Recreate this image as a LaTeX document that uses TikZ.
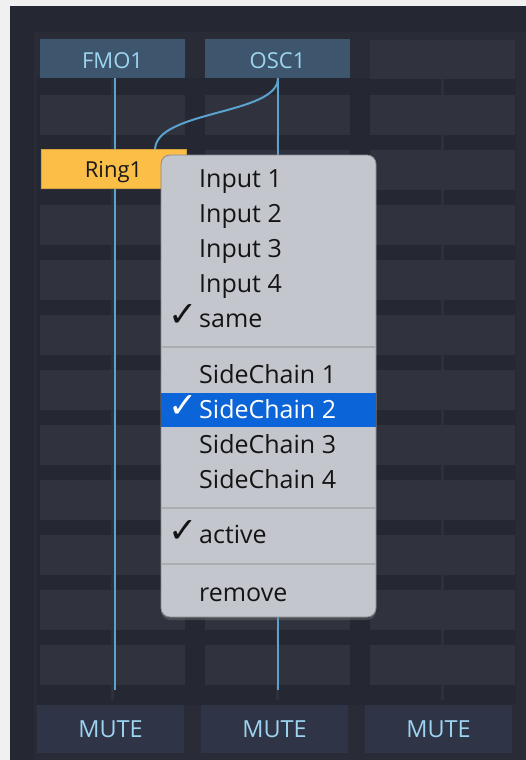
\documentclass[tikz,border=0pt]{standalone}
\usepackage{fontspec}
\newfontfamily\uifont{Open Sans}
\newfontfamily\symfont{DejaVu Sans}
\usetikzlibrary{shadows}

\definecolor{outer}{HTML}{F0F0F0}
\definecolor{panel}{HTML}{292C37}
\definecolor{gap}{HTML}{252832}
\definecolor{cell}{HTML}{30333E}
\definecolor{slot}{HTML}{3D566E}
\definecolor{slottext}{HTML}{9DD4F0}
\definecolor{mute}{HTML}{2F3446}
\definecolor{ring}{HTML}{FBBE47}
\definecolor{wire}{HTML}{5AA3CF}
\definecolor{menu}{HTML}{C4C6CD}
\definecolor{menuline}{HTML}{ABADB3}
\definecolor{pick}{HTML}{0B64D8}

\pgfdeclarelayer{grid}
\pgfdeclarelayer{wires}
\pgfsetlayers{grid,wires,main}

\tikzset{
	slotbox/.style = {minimum width = 145pt, minimum height = 39pt, inner sep = 0pt,
		fill = slot, text = slottext, text height = 19pt, text depth = 0pt,
		font = \uifont\fontsize{22}{22}\selectfont},
	ringbox/.style = {slotbox, fill = ring, draw = ring!85!black, text = black!90,
		text height = 16pt},
	mutebox/.style = {slotbox, minimum width = 147pt, minimum height = 48pt,
		fill = mute, text height = 16pt, font = \uifont\fontsize{23.5}{23.5}\selectfont},
	menubox/.style = {minimum width = 215pt, minimum height = 462pt, rounded corners = 9pt,
		fill = menu, draw = menuline!80!black, line width = 0.8pt,
		drop shadow = {opacity = 0.35, shadow xshift = 0pt, shadow yshift = -3pt}},
	menuentry/.style = {anchor = base west, inner sep = 0pt, text = black!92,
		font = \uifont\fontsize{25}{25}\selectfont},
	checkmark/.style = {menuentry, font = \symfont\bfseries\fontsize{35}{35}\selectfont},
	wire/.style = {draw = wire, line width = 2pt},
	sepline/.style = {draw = menuline, line width = 2pt}
}

\begin{document}
\begin{tikzpicture}[x = 1pt, y = -1pt, font = \uifont]

	\useasboundingbox (0, 0) rectangle (526, 760);

	% Rack background with the slot grid

	\begin{pgfonlayer}{grid}
		\fill [outer] (0, 0) rectangle (526, 760);
		\fill [panel] (10, 6) rectangle (526, 760);
		\fill [gap] (10, 6) rectangle (526, 32);
		\fill [gap] (10, 32) rectangle (34, 760);
		\fill [gap] (37, 78) rectangle (516, 705);
		\foreach \c in {0, 1, 2} {
			\foreach \r in {0, ..., 10}
				\fill [cell] (40 + 165*\c, 95 + 55*\r) rectangle +(145, 40);
			\foreach \r in {0, ..., 11}
				\fill [cell!85!gap] (111 + 165*\c, 79 + 55*\r) rectangle +(3, 16);
		}
	\end{pgfonlayer}

	% Slot headers, ring modulator and mute buttons

	\node [slotbox] (fmo) at (112.5, 58.5) {FMO1};
	\node [slotbox] (osc) at (277.5, 58.5) {OSC1};
	\node [slotbox, fill = cell] (spare) at (442.5, 59.5) {};

	\node [ringbox] (ring) at (113.5, 169) {Ring1};

	\node [mutebox] (mute1) at (110.5, 729) {MUTE};
	\node [mutebox] (mute2) at (274.5, 729) {MUTE};
	\node [mutebox] (mute3) at (438.5, 729) {MUTE};

	% Signal wires

	\coordinate (fmoend) at (115, 690);
	\coordinate (oscend) at (278, 690);
	\coordinate (ringin) at (155, 150);

	\begin{pgfonlayer}{wires}
		\draw [wire] (fmo.south -| fmoend) -- (fmoend);
		\draw [wire] (osc.south -| oscend) -- (oscend);
		\draw [wire] (osc.south -| oscend) .. controls +(0, 37) and +(0, -40) .. (ringin);
	\end{pgfonlayer}

	% Input menu

	\node [menubox] (menu) at (268.5, 386) {};
	\fill [pick] (menu.west |- 0, 393) rectangle (menu.east |- 0, 427);

	\draw [sepline] (menu.west |- 0, 346.5) -- (menu.east |- 0, 346.5);
	\draw [sepline] (menu.west |- 0, 507.5) -- (menu.east |- 0, 507.5);
	\draw [sepline] (menu.west |- 0, 564) -- (menu.east |- 0, 564);

	\node [menuentry] (in1) at (199, 187) {Input 1};
	\node [menuentry] (in2) at (199, 222) {Input 2};
	\node [menuentry] (in3) at (199, 257) {Input 3};
	\node [menuentry] (in4) at (199, 292) {Input 4};
	\node [menuentry] (same) at (199, 327) {same};
	\node [checkmark] (samechk) at (168, 326) {✓};

	\node [menuentry] (sc1) at (199, 383) {SideChain 1};
	\node [menuentry, text = white] (sc2) at (199, 418) {SideChain 2};
	\node [checkmark, text = white] (sc2chk) at (168, 417) {✓};
	\node [menuentry] (sc3) at (199, 453) {SideChain 3};
	\node [menuentry] (sc4) at (199, 488) {SideChain 4};

	\node [menuentry] (active) at (199, 543) {active};
	\node [checkmark] (activechk) at (168, 542) {✓};

	\node [menuentry] (remove) at (199, 601) {remove};

\end{tikzpicture}
\end{document}
